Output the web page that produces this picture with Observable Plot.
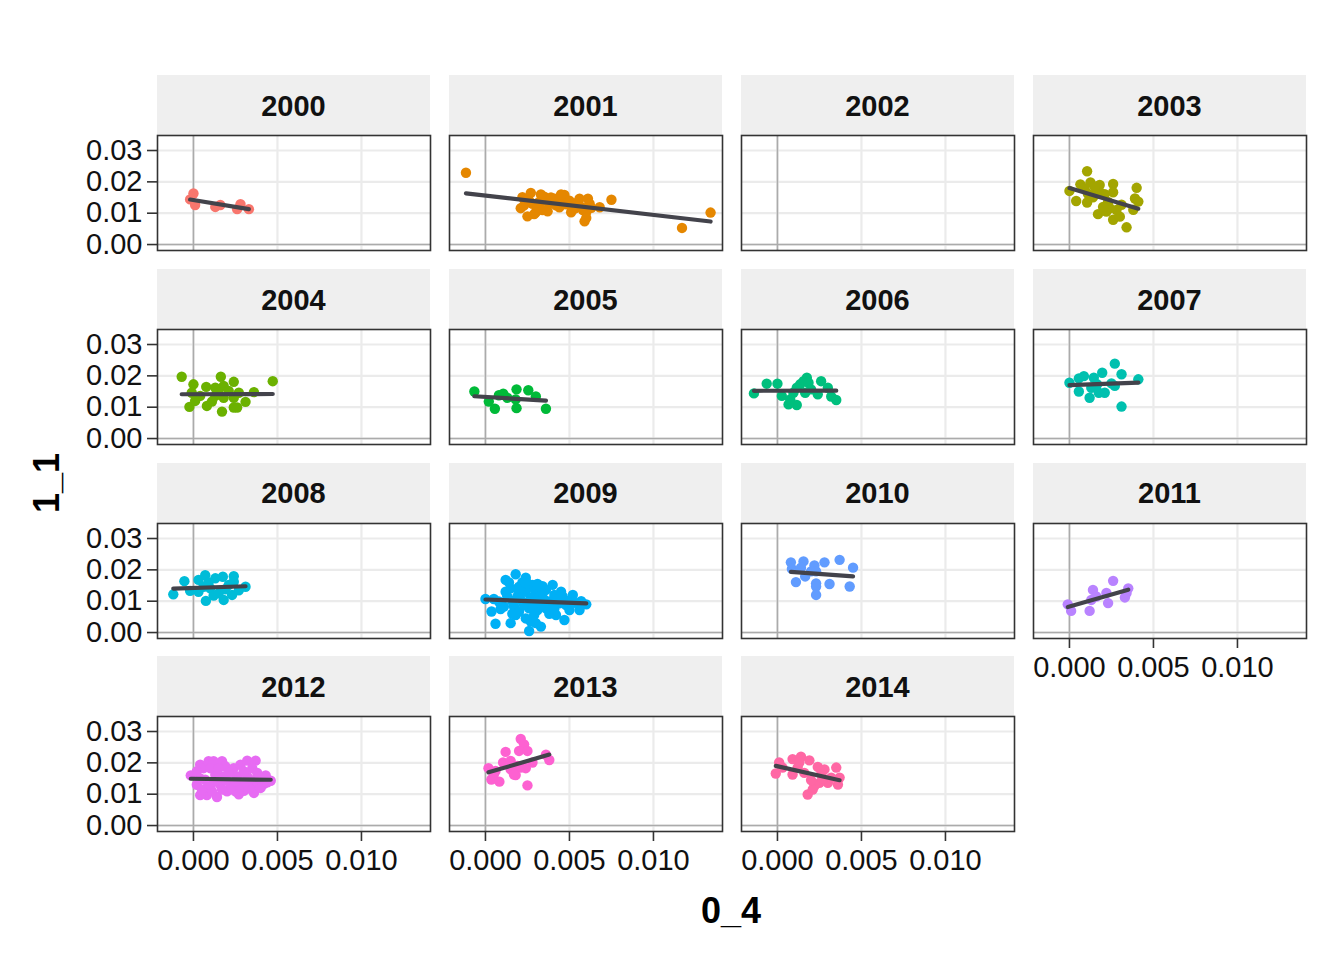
<!DOCTYPE html>
<html>
<head>
<meta charset="utf-8">
<script src="https://cdn.jsdelivr.net/npm/d3@7"></script>
<script src="https://cdn.jsdelivr.net/npm/@observablehq/plot@0.6"></script>
<style>
  html, body { margin: 0; padding: 0; background: #ffffff; }
  #chart { position: relative; width: 1344px; height: 960px; font-family: "Liberation Sans", Arial, sans-serif; }
  .strip { position: absolute; background: #EFEFEF; display: flex; align-items: center; justify-content: center;
           font-weight: bold; font-size: 29px; color: #111; padding-top: 2px; box-sizing: border-box; }
  .panel { position: absolute; }
  .title { position: absolute; font-weight: bold; font-size: 36px; color: #000; }
</style>
</head>
<body>
<div id="chart"></div>
<script>
// ---- data ----
const years = [2000, 2001, 2002, 2003, 2004, 2005, 2006, 2007, 2008, 2009, 2010, 2011, 2012, 2013, 2014];
const colors = ["#F8766D","#E58700","#C99800","#A3A500","#6BB100","#00BA38","#00BF7D","#00C0AF","#00BCD8","#00B0F6","#619CFF","#B983FF","#E76BF3","#FD61D1","#FF67A4"];
const xTicks = [0, 0.005, 0.010];
const xTickLabels = ["0.000", "0.005", "0.010"];
const yTicks = [0, 0.01, 0.02, 0.03];
const yTickLabels = ["0.00", "0.01", "0.02", "0.03"];
const xTitle = "0_4";
const yTitle = "1_1";

const pts2000 = [[0,0.0163],[-0.0002,0.0144],[0.0001,0.0126],[0.0013,0.0120],[0.0016,0.0126],[0.0028,0.0129],[0.0026,0.0113],[0.0033,0.0113]];
const pts2001 = [[-0.00116,0.0229],[0.0134,0.0102],[0.0117,0.0053],[0.0075,0.0143],[0.0022,0.0151],[0.0027,0.0165],[0.0021,0.0116],[0.0025,0.0090],[0.0030,0.0103],[0.0035,0.0153],[0.0037,0.0106],[0.0041,0.0146],[0.0047,0.0158],[0.0044,0.0119],[0.0051,0.0103],[0.0056,0.0146],[0.0061,0.0146],[0.0060,0.0103],[0.0059,0.0074],[0.0068,0.0119],[0.0032,0.0136],[0.0052,0.0130],[0.0028,0.0130],[0.0038,0.0130],[0.0024,0.0140],[0.0046,0.0135],[0.0057,0.0120],
  [0.0023,0.0125],[0.0026,0.0140],[0.0031,0.0120],[0.0034,0.0110],[0.0036,0.0140],[0.0039,0.0150],[0.0042,0.0125],[0.0044,0.0150],[0.0048,0.0128],[0.0050,0.0140],[0.0053,0.0115],[0.0055,0.0135],[0.0058,0.0110],[0.0062,0.0130],[0.0060,0.0085],[0.0029,0.0097],[0.0033,0.0160],[0.0045,0.0160],[0.0063,0.0117]];
const pts2002 = [];
const pts2003 = [[0,0.0171],[0.0004,0.0139],[0.00105,0.0234],[0.00065,0.0192],[0.00125,0.0198],[0.0018,0.0190],[0.0011,0.0162],[0.00105,0.0134],[0.0016,0.0162],[0.0018,0.0167],[0.0026,0.0193],[0.0026,0.0167],[0.0023,0.0136],[0.0017,0.0097],[0.0022,0.0105],[0.0024,0.0116],[0.0026,0.0079],[0.0030,0.0089],[0.0034,0.0055],[0.0040,0.0181],[0.0039,0.0147],[0.0041,0.0137],[0.0038,0.0111],[0.0031,0.0127],[0.0014,0.0151],[0.0021,0.0161],[0.0009,0.0180],[0.0015,0.0185],[0.0020,0.0120],[0.0028,0.0110]];
const pts2004 = [[-0.0007,0.0197],[0.00163,0.0197],[0.0024,0.0181],[0.00472,0.0183],[0,0.0173],[0.00076,0.0165],[0.0013,0.0162],[0.0018,0.0168],[0.0036,0.0148],[0.0027,0.0146],[-0.0001,0.0146],[0.0004,0.0136],[0.0013,0.0136],[0.0018,0.0130],[0.0024,0.0130],[0.0031,0.0117],[-0.00024,0.0101],[0.0008,0.0104],[0.0011,0.0118],[0.0017,0.0086],[0.0024,0.0099],[0.0026,0.0099],[0.0001,0.0120],[0.0021,0.0152],[0.0015,0.0146]];
const pts2005 = [[-0.00066,0.0150],[0.0002,0.0118],[0.00056,0.0095],[0.0008,0.0138],[0.00106,0.0143],[0.00185,0.0157],[0.0018,0.0125],[0.00185,0.0097],[0.00255,0.0154],[0.0030,0.0134],[0.0036,0.0095],[0.0013,0.0130]];
const pts2006 = [[-0.0014,0.0144],[-0.00064,0.0175],[0,0.0175],[0.00026,0.0136],[0.00066,0.0109],[0.00115,0.0107],[0.00076,0.0125],[0.00135,0.0173],[0.00175,0.0194],[0.00155,0.0183],[0.00185,0.0178],[0.00115,0.0162],[0.0026,0.0183],[0.00165,0.0146],[0.0024,0.0141],[0.0030,0.0162],[0.0032,0.0134],[0.0035,0.0123],[0.0020,0.0157],[0.00095,0.0146]];
const pts2007 = [[0,0.0178],[0.00056,0.0150],[0.00056,0.0192],[0.00086,0.0199],[0.0012,0.0130],[0.00145,0.0194],[0.0013,0.0162],[0.00175,0.0146],[0.00195,0.0210],[0.0021,0.0146],[0.0025,0.0176],[0.0027,0.0168],[0.0027,0.0239],[0.0031,0.0205],[0.0031,0.0102],[0.0041,0.0189],[0.00165,0.0173]];
const pts2008 = [[-0.0012,0.0122],[-0.00054,0.0164],[-0.0002,0.0133],[0.0003,0.0168],[0.0003,0.0130],[0.0007,0.0183],[0.00074,0.0101],[0.0013,0.0173],[0.00175,0.0178],[0.0024,0.0180],[0.0018,0.0104],[0.0023,0.0120],[0.0031,0.0146],[0.0010,0.0141],[0.0015,0.0125],[0.0021,0.0152],[0.0006,0.0146],[0.0024,0.0162],[0.0009,0.0160],[0.0019,0.0138],[0.0027,0.0135],[0.0012,0.0118]];
const pts2009 = [[0,0.0107],[0.0005,0.0107],[0.00036,0.0067],[0.0006,0.0028],[0.0012,0.0168],[0.0018,0.0186],[0.0024,0.0175],[0.0015,0.0141],[0.0020,0.0146],[0.0028,0.0152],[0.0034,0.0148],[0.0040,0.0152],[0.0041,0.0120],[0.0046,0.0115],[0.0052,0.0120],[0.0060,0.0090],[0.0056,0.0072],[0.0047,0.0040],[0.0042,0.0056],[0.0033,0.0019],[0.0026,0.0005],[0.0027,0.0035],[0.0015,0.0030],[0.0018,0.0056],[0.0011,0.0083],[0.0013,0.0115],[0.0022,0.0099],[0.0026,0.0077],[0.0031,0.0072],[0.0036,0.0077],[0.0038,0.0099],[0.0032,0.0109],[0.0030,0.0130],[0.0024,0.0130],[0.0019,0.0115],[0.0048,0.0088],[0.0044,0.0093],[0.0017,0.0083],[0.0029,0.0056],[0.0008,0.0099],[0.0025,0.0157],[0.0036,0.0136],[0.0050,0.0072],[0.0020,0.0067],
  [0.0012,0.0130],[0.0016,0.0100],[0.0021,0.0125],[0.0023,0.0088],[0.0027,0.0110],[0.0029,0.0140],[0.0033,0.0090],[0.0034,0.0125],[0.0039,0.0080],[0.0043,0.0105],[0.0045,0.0130],[0.0049,0.0100],[0.0053,0.0095],[0.0057,0.0100],[0.0014,0.0160],[0.0022,0.0160],[0.0031,0.0155],[0.0016,0.0060],[0.0024,0.0045],[0.0030,0.0030],[0.0038,0.0060],[0.0009,0.0075],[0.0028,0.0090],[0.0035,0.0105],[0.0041,0.0075],[0.0019,0.0140]];
const pts2010 = [[0.0008,0.0224],[0.00086,0.0203],[0.00155,0.0227],[0.0014,0.0207],[0.0022,0.0214],[0.0023,0.0195],[0.0028,0.0224],[0.0037,0.0232],[0.0045,0.0207],[0.0011,0.0161],[0.00165,0.0179],[0.0023,0.0157],[0.0023,0.0147],[0.0031,0.0155],[0.0043,0.0147],[0.0023,0.0120],[0.0020,0.0195]];
const pts2011 = [[-0.0001,0.0090],[0.0001,0.0069],[0.0012,0.0069],[0.0014,0.0136],[0.0013,0.0104],[0.0016,0.0115],[0.0022,0.0126],[0.0023,0.0094],[0.0026,0.0165],[0.0033,0.0112],[0.0035,0.0141],[0.0034,0.0126]];
const pts2012 = [[-0.00016,0.0160],[0.0004,0.0194],[0.0006,0.0183],[0.0009,0.0205],[0.0012,0.0205],[0.0017,0.0205],[0.0019,0.0189],[0.0024,0.0183],[0.0028,0.0194],[0.0032,0.0207],[0.0037,0.0207],[0.0035,0.0183],[0.0038,0.0168],[0.0043,0.0160],[0.0046,0.0143],[0.0042,0.0133],[0.0036,0.0104],[0.0030,0.0111],[0.0025,0.0109],[0.0020,0.0109],[0.0014,0.0091],[0.0008,0.0097],[0.0004,0.0097],[0.0002,0.0130],[0.0010,0.0125],[0.0013,0.0162],[0.0018,0.0157],[0.0026,0.0157],[0.0032,0.0157],[0.0007,0.0146],[0.0016,0.0130],[0.0022,0.0130],[0.0029,0.0136],[0.0035,0.0130],[0.0002,0.0173],[0.0030,0.0173],[0.0038,0.0136],[0.0010,0.0183],[0.0021,0.0168],[0.0015,0.0183],
  [0.0005,0.0115],[0.0011,0.0110],[0.0017,0.0115],[0.0023,0.0118],[0.0028,0.0120],[0.0033,0.0118],[0.0040,0.0120],[0.0044,0.0138],[0.0012,0.0140],[0.0019,0.0145],[0.0025,0.0142],[0.0031,0.0140],[0.0037,0.0148],[0.0004,0.0150],[0.0009,0.0132],[0.0027,0.0100],[0.0039,0.0155]];
const pts2013 = [[0.00018,0.0183],[0.00035,0.0147],[0.00083,0.0140],[0.0012,0.0235],[0.00105,0.0201],[0.0015,0.0206],[0.0019,0.0190],[0.0018,0.0161],[0.0021,0.0276],[0.0023,0.0259],[0.0020,0.0238],[0.0025,0.0238],[0.0024,0.0183],[0.0028,0.0201],[0.0025,0.0128],[0.0036,0.0226],[0.0038,0.0209],[0.0006,0.0174],[0.0015,0.0179],[0.0021,0.0185],[0.0005,0.0163],[0.0017,0.0163]];
const pts2014 = [[0.0001,0.0201],[-0.0001,0.0166],[0.0009,0.0212],[0.0014,0.0220],[0.0013,0.0201],[0.0019,0.0208],[0.0024,0.0187],[0.0028,0.0179],[0.0035,0.0185],[0.0037,0.0153],[0.0036,0.0131],[0.0030,0.0136],[0.0025,0.0136],[0.0022,0.0126],[0.0018,0.0099],[0.0021,0.0115],[0.0009,0.0163],[0.0016,0.0168],[0.0026,0.0163],[0.0032,0.0153],[0.0003,0.0185],[0.0012,0.0185],[0.0020,0.0145],[0.0027,0.0150]];
const pointsByYear = [pts2000, pts2001, pts2002, pts2003, pts2004, pts2005, pts2006, pts2007, pts2008, pts2009, pts2010, pts2011, pts2012, pts2013, pts2014];

// ---- layout ----
const chart = document.getElementById("chart");
const colLeft = [157, 449, 741, 1033];
const stripTop = [75, 269, 462.5, 656];
const panelW = 273, panelH = 115, stripH = 60;
const xDomain = [-0.00214, 0.01411];
const yDomain = [-0.0019, 0.03479];
const FONT = "'Liberation Sans', Arial, sans-serif";

years.forEach((year, i) => {
  const col = i % 4, row = Math.floor(i / 4);
  const isLeft = col === 0;
  const isBottom = row === 3 || i === 11;
  const pts = pointsByYear[i].map(([x, y]) => ({x, y}));

  const strip = document.createElement("div");
  strip.className = "strip";
  strip.style.left = colLeft[col] + "px";
  strip.style.top = stripTop[row] + "px";
  strip.style.width = panelW + "px";
  strip.style.height = stripH + "px";
  strip.textContent = String(year);
  chart.appendChild(strip);

  const ml = isLeft ? 80 : 0;
  const mb = isBottom ? 60 : 0;
  const marks = [
    Plot.gridX(xTicks, {stroke: "#EBEBEB", strokeOpacity: 1, strokeWidth: 2.2}),
    Plot.gridY(yTicks, {stroke: "#EBEBEB", strokeOpacity: 1, strokeWidth: 2.2}),
    Plot.ruleX([0], {stroke: "#ABABAB", strokeWidth: 1.6}),
    Plot.ruleY([0], {stroke: "#ABABAB", strokeWidth: 1.6}),
    Plot.dot(pts, {x: "x", y: "y", r: 5.2, fill: colors[i], stroke: null})
  ];
  if (pts.length > 1) {
    marks.push(Plot.linearRegressionY(pts, {x: "x", y: "y", ci: 0, stroke: "#43434B", strokeWidth: 4.2}));
  }
  marks.push(Plot.frame({stroke: "#333333", strokeWidth: 1.6}));
  if (isLeft) {
    marks.push(Plot.axisY(yTicks, {label: null, tickSize: 10, tickPadding: 5, tickFormat: (d, k) => yTickLabels[k], fontSize: 29, stroke: "#333333", strokeWidth: 1.6, fill: "#111"}));
  }
  if (isBottom) {
    marks.push(Plot.axisX(xTicks, {label: null, tickSize: 10, tickPadding: 8, tickFormat: (d, k) => xTickLabels[k], fontSize: 29, stroke: "#333333", strokeWidth: 1.6, fill: "#111"}));
  }

  const svg = Plot.plot({
    width: panelW + ml,
    height: panelH + mb,
    marginLeft: ml, marginRight: 0, marginTop: 0, marginBottom: mb,
    x: {domain: xDomain, axis: null, label: null},
    y: {domain: yDomain, axis: null, label: null},
    style: {fontFamily: FONT, fontSize: "29px", color: "#111", background: "transparent", overflow: "visible"},
    marks
  });
  svg.classList.add("panel");
  svg.style.position = "absolute";
  svg.style.left = (colLeft[col] - ml) + "px";
  svg.style.top = (stripTop[row] + stripH) + "px";
  chart.appendChild(svg);
});

const xt = document.createElement("div");
xt.className = "title";
xt.textContent = xTitle;
xt.style.left = "731px";
xt.style.top = "911px";
xt.style.transform = "translate(-50%, -50%)";
chart.appendChild(xt);

const yt = document.createElement("div");
yt.className = "title";
yt.textContent = yTitle;
yt.style.left = "47px";
yt.style.top = "483px";
yt.style.transform = "translate(-50%, -50%) rotate(-90deg)";
chart.appendChild(yt);
</script>
</body>
</html>
